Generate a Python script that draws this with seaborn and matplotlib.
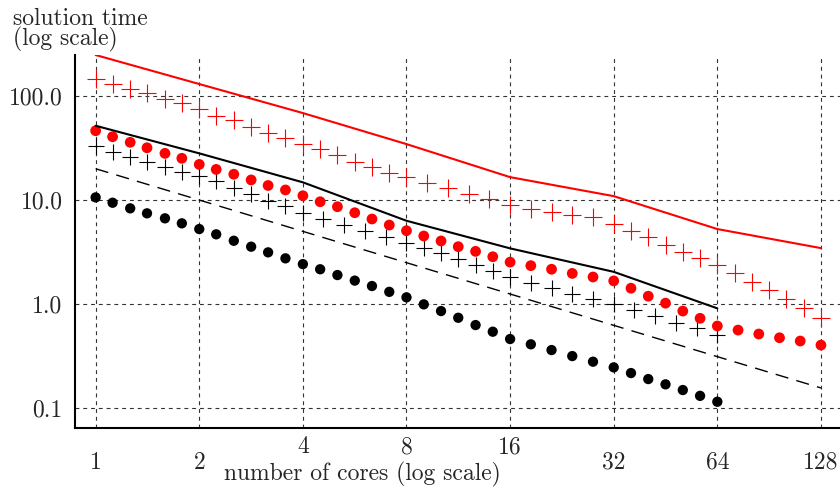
import numpy as np
import pandas as pd
import seaborn as sns
import matplotlib.pyplot as plt

sns.set_style('white')
plt.rcParams['font.family'] = ['cmr10', 'DejaVu Serif']
plt.rcParams['mathtext.fontset'] = 'cm'
plt.rcParams['axes.formatter.use_mathtext'] = True

# number of cores for each series
red_plus_x = [1, 1.12, 1.26, 1.41, 1.59, 1.78, 2, 2.24, 2.52, 2.83, 3.17, 3.56, 4,
              4.49, 5.04, 5.66, 6.35, 7.13, 8, 9.19, 10.56, 12.13, 13.93, 16,
              18.38, 21.11, 24.25, 27.86, 32, 35.92, 40.32, 45.25, 50.8, 57.02, 64,
              71.84, 80.63, 90.51, 101.59, 114.04, 128]
red_plus_y = [145.7, 129.6, 116.0, 106.2, 93.6, 85.1, 74.5, 64.2, 58.8, 50.7, 43.8, 39.2, 34.3,
              30.9, 27.1, 23.2, 20.9, 18.3, 16.5, 14.5, 13.0, 11.4, 10.2, 8.95,
              8.14, 7.61, 7.17, 6.82, 5.88, 5.07, 4.38, 3.69, 3.18, 2.75, 2.37,
              1.97, 1.64, 1.36, 1.11, 0.909, 0.729]

red_dot_x = [1, 1.12, 1.26, 1.41, 1.59, 1.78, 2, 2.24, 2.52, 2.83, 3.17, 3.56, 4,
             4.49, 5.04, 5.66, 6.35, 7.13, 8, 8.98, 10.08, 11.31, 12.7, 14.25, 16,
             18.38, 21.11, 24.25, 27.86, 32, 35.92, 40.32, 45.25, 50.8, 57.02, 64,
             73.52, 84.45, 97.01, 111.43, 128]
red_dot_y = [46.4, 40.6, 35.9, 31.8, 28.1, 25.2, 22.0, 19.7, 17.7, 15.6, 13.8, 12.5, 11.0,
             9.63, 8.62, 7.55, 6.57, 5.75, 5.07, 4.51, 4.04, 3.56, 3.21, 2.85, 2.53,
             2.34, 2.16, 1.97, 1.82, 1.67, 1.42, 1.19, 1.02, 0.856, 0.729, 0.615,
             0.562, 0.515, 0.474, 0.441, 0.403]

black_plus_x = [1, 1.12, 1.26, 1.41, 1.59, 1.78, 2, 2.24, 2.52, 2.83, 3.17, 3.56, 4,
                4.59, 5.28, 6.06, 6.96, 8, 8.98, 10.08, 11.31, 12.7, 14.25, 16,
                18.38, 21.11, 24.25, 27.86, 32, 36.76, 42.22, 48.5, 55.72, 64]
black_plus_y = [33.1, 28.9, 25.9, 23.2, 20.8, 18.6, 17.0, 15.2, 13.0, 11.4, 9.78, 8.76, 7.50,
                6.52, 5.75, 5.07, 4.38, 3.89, 3.43, 3.07, 2.69, 2.37, 2.08, 1.83,
                1.58, 1.42, 1.25, 1.13, 1.0, 0.876, 0.767, 0.661, 0.584, 0.503]

black_dot_x = [1, 1.12, 1.26, 1.41, 1.59, 1.78, 2, 2.24, 2.52, 2.83, 3.17, 3.56, 4,
               4.49, 5.04, 5.66, 6.35, 7.13, 8, 8.98, 10.08, 11.31, 12.7, 14.25, 16,
               18.38, 21.11, 24.25, 27.86, 32, 35.92, 40.32, 45.25, 50.8, 57.02, 64]
black_dot_y = [10.6, 9.42, 8.32, 7.45, 6.67, 5.97, 5.26, 4.68, 4.06, 3.56, 3.14, 2.75, 2.42,
               2.16, 1.90, 1.68, 1.49, 1.31, 1.16, 0.993, 0.856, 0.738, 0.628, 0.542, 0.461,
               0.410, 0.361, 0.316, 0.279, 0.246, 0.217, 0.190, 0.169, 0.149, 0.131, 0.115]

red_line_x = [1, 2, 4, 8, 16, 32, 64, 128]
red_line_y = [247.9, 130.4, 68.6, 34.5, 16.6, 10.9, 5.26, 3.45]

black_line_x = [1, 2, 4, 8, 16, 32, 64]
black_line_y = [51.8, 28.1, 14.8, 6.32, 3.43, 2.04, 0.909]

ideal_x = [1, 128]
ideal_y = [20, 0.156]

xticks = [1, 2, 4, 8, 16, 32, 64, 128]
xtick_labels = ['1', '2', '4', '8', '16', '32', '64', '128']
raised_labels = ['4', '8', '16']   # these sit higher so they clear the axis label
yticks = [0.1, 1, 10, 100]
ytick_labels = ['0.1', '1.0', '10.0', '100.0']

fig = plt.figure(figsize=(8.4, 4.96), dpi=100)
ax = fig.add_axes([75/840, 68/496, 765/840, 373/496])

sns.lineplot(x=red_line_x, y=red_line_y, color='#ff0000', linewidth=1.5, ax=ax)
sns.lineplot(x=black_line_x, y=black_line_y, color='black', linewidth=1.5, ax=ax)
sns.lineplot(x=ideal_x, y=ideal_y, color='black', linewidth=1.0,
             linestyle=(0, (9.5, 6)), ax=ax)
sns.scatterplot(x=red_plus_x, y=red_plus_y, marker='+', s=150, color='#ff0000',
                linewidth=0.8, ax=ax)
sns.scatterplot(x=black_plus_x, y=black_plus_y, marker='+', s=140, color='black',
                linewidth=0.8, ax=ax)
sns.scatterplot(x=red_dot_x, y=red_dot_y, marker='o', s=60, color='#ff0000',
                edgecolor='none', ax=ax)
sns.scatterplot(x=black_dot_x, y=black_dot_y, marker='o', s=55, color='black',
                edgecolor='none', ax=ax)

ax.set_xscale('log', base=2)
ax.set_yscale('log')
ax.set_xlim(0.871, 145.4)
ax.set_ylim(0.0643, 248)
ax.set_xticks(xticks, xtick_labels)
ax.set_yticks(yticks, ytick_labels)
ax.minorticks_off()
ax.tick_params(axis='both', direction='in', length=4, width=1, labelsize=17)
ax.tick_params(axis='x', pad=17)
ax.tick_params(axis='y', pad=9)
ax.grid(True, linestyle=(0, (3.5, 3.5)), color='#333333', linewidth=0.8)

for tick, lab in zip(ax.xaxis.get_major_ticks(), xtick_labels):
    if lab in raised_labels:
        tick.set_pad(6)

sns.despine(ax=ax)
ax.spines['left'].set_linewidth(1.5)
ax.spines['bottom'].set_linewidth(1.5)
ax.spines['left'].set_color('black')
ax.spines['bottom'].set_color('black')

fig.text(13/840, 1 - 25/496, 'solution time', fontsize=17, va='baseline', ha='left')
fig.text(13/840, 1 - 45/496, '(log scale)', fontsize=17, va='baseline', ha='left')
fig.text(362/840, 1 - 480/496, 'number of cores (log scale)', fontsize=17,
         va='baseline', ha='center')

fig.savefig('out.png', dpi=100)
